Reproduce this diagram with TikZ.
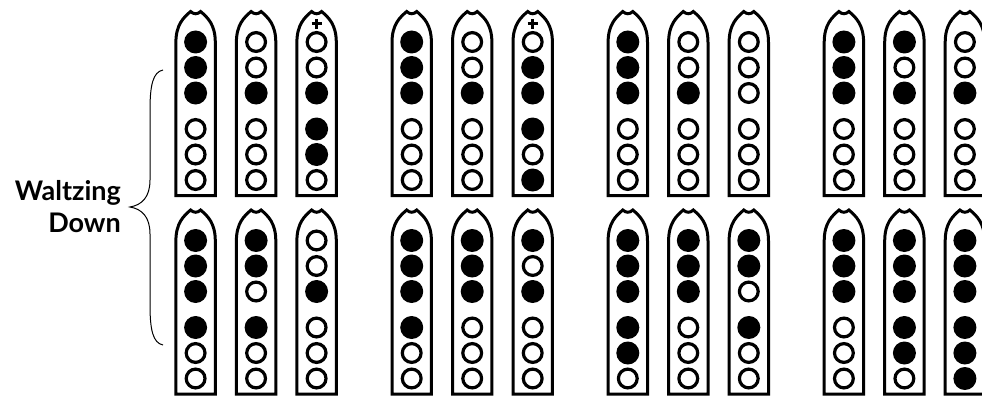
\documentclass[tikz,border=0pt]{standalone}
\usepackage{fontspec}
\newfontfamily\lblfont{Lato}
\tikzset{
  body/.style={draw=black, fill=white, line width=3pt, line join=miter},
  holeopen/.style={draw=black, fill=white, line width=3.2pt},
  holeclosed/.style={fill=black},
  plusmark/.style={line width=3pt},
  bracestyle/.style={line width=1pt},
  lbl/.style={font=\lblfont\bfseries\fontsize{27}{32}\selectfont, inner sep=0pt, anchor=base east}
}
\newcommand\whistlefig[4]{%
  \begin{scope}[shift={(#1,#2)}]
    \draw[body] (-5,0) .. controls (-2,3) and (2,3) .. (5,0)
      .. controls (12,6) and (19.7,13) .. (19.7,31) -- (19.7,184) -- (-19.7,184) -- (-19.7,31)
      .. controls (-19.7,13) and (-12,6) .. cycle;
    \foreach \f [count=\i from 0] in {#3} {
      \pgfmathsetmacro\hy{{30.5,56,81.5,117.5,143,168.5}[\i]}
      \ifnum\f=1 \fill[holeclosed] (0,\hy) circle (11.5pt);
      \else \draw[holeopen] (0,\hy) circle (9.4pt); \fi
    }
    \ifnum#4=1 \draw[plusmark] (-5,12.5) -- (5,12.5) (0,7.5) -- (0,17.5); \fi
  \end{scope}}
\begin{document}
\begin{tikzpicture}[x=1pt,y=-1pt]
\useasboundingbox (0,0) rectangle (982,396);
\clip (0,0) rectangle (982,396);
\fill[white] (0,0) rectangle (982,396);
% top row
\whistlefig{195.6}{11.5}{1,1,1,0,0,0}{0}
\whistlefig{256.1}{11.5}{0,0,1,0,0,0}{0}
\whistlefig{316.6}{11.5}{0,0,1,1,1,0}{1}
\whistlefig{411.7}{11.5}{1,1,1,0,0,0}{0}
\whistlefig{472.2}{11.5}{0,0,1,0,0,0}{0}
\whistlefig{532.7}{11.5}{0,1,1,1,0,1}{1}
\whistlefig{627.8}{11.5}{1,1,1,0,0,0}{0}
\whistlefig{688.3}{11.5}{0,0,1,0,0,0}{0}
\whistlefig{748.8}{11.5}{0,0,0,0,0,0}{0}
\whistlefig{843.9}{11.5}{1,1,1,0,0,0}{0}
\whistlefig{904.4}{11.5}{1,0,1,0,0,0}{0}
\whistlefig{964.9}{11.5}{0,0,1,0,0,0}{0}
% bottom row
\whistlefig{195.6}{210}{1,1,1,1,0,0}{0}
\whistlefig{256.1}{210}{1,1,0,1,0,0}{0}
\whistlefig{316.6}{210}{0,0,1,0,0,0}{0}
\whistlefig{411.7}{210}{1,1,1,1,0,0}{0}
\whistlefig{472.2}{210}{1,1,1,0,0,0}{0}
\whistlefig{532.7}{210}{1,0,1,0,0,0}{0}
\whistlefig{627.8}{210}{1,1,1,1,1,0}{0}
\whistlefig{688.3}{210}{1,1,1,0,0,0}{0}
\whistlefig{748.8}{210}{1,1,0,1,0,0}{0}
\whistlefig{843.9}{210}{1,1,1,0,0,0}{0}
\whistlefig{904.4}{210}{1,1,1,1,1,0}{0}
\whistlefig{964.9}{210}{1,1,1,1,1,1}{0}
% brace
\draw[bracestyle] (163,70) .. controls (153,72) and (150,85) .. (150,110) -- (150,180)
  .. controls (150,197) and (142,205) .. (130,207)
  .. controls (142,209) and (150,217) .. (150,234) -- (150,305)
  .. controls (150,330) and (153,343) .. (163,345);
% label
\node[lbl] (l1) at (121,200) {Waltzing};
\node[lbl] (l2) at (121,232) {Down};
\end{tikzpicture}
\end{document}
